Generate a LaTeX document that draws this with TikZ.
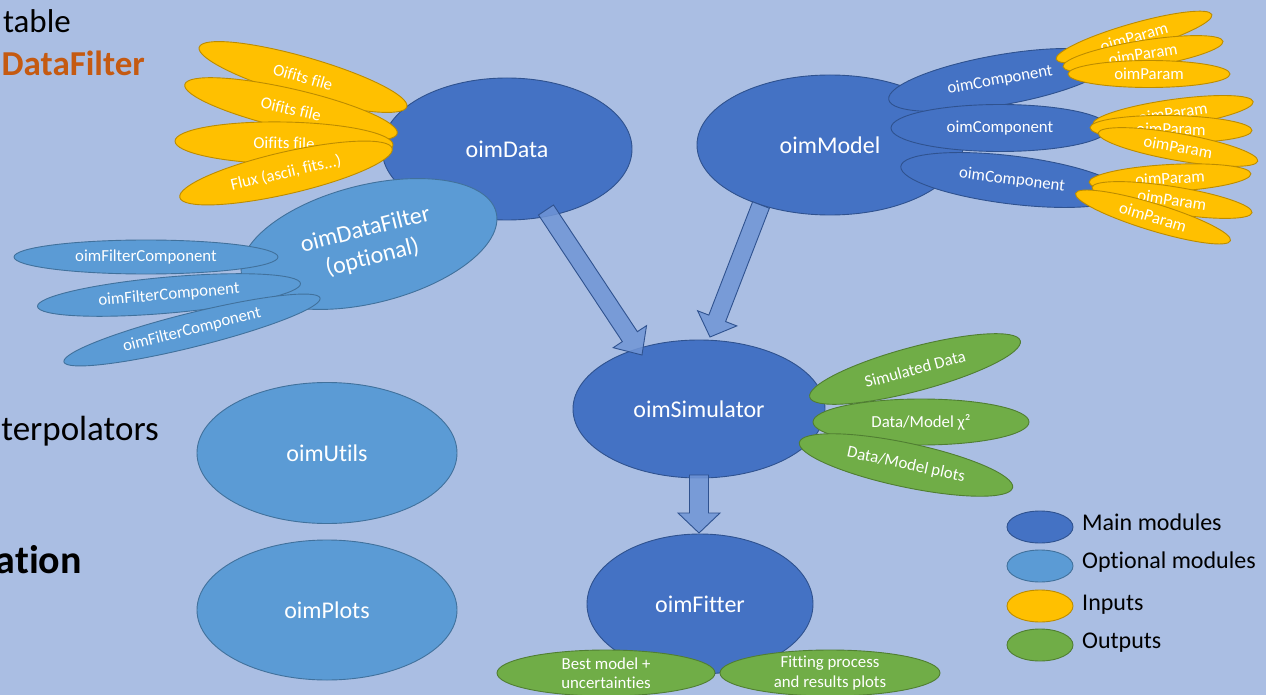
\documentclass[tikz,border=0pt]{standalone}
\usepackage{fontspec}
\setmainfont{Carlito}[Ligatures={NoCommon}]
\usetikzlibrary{shapes.geometric,calc}

\definecolor{bgblue}{HTML}{AABEE3}
\definecolor{mainfill}{HTML}{4472C4}
\definecolor{maindraw}{HTML}{2F528F}
\definecolor{optfill}{HTML}{5B9BD5}
\definecolor{optdraw}{HTML}{41719C}
\definecolor{infill}{HTML}{FFC000}
\definecolor{indraw}{HTML}{BC8C00}
\definecolor{outfill}{HTML}{70AD47}
\definecolor{outdraw}{HTML}{507E32}
\definecolor{arrowfill}{HTML}{7095D6}
\definecolor{filterorange}{HTML}{C55A11}

\tikzset{
  blob/.style={ellipse, inner sep=0pt, outer sep=0pt, line width=0.9pt},
  mainmod/.style={blob, fill=mainfill, draw=maindraw},
  optmod/.style={blob, fill=optfill, draw=optdraw},
  inputs/.style={blob, fill=infill, draw=indraw},
  outputs/.style={blob, fill=outfill, draw=outdraw},
  bigtxt/.style={text=white, inner sep=0pt, align=center,
    font=\fontsize{24}{29}\selectfont},
  smalltxt/.style={text=white, inner sep=0pt, align=center,
    font=\fontsize{16.8}{19.5}\selectfont},
  legtxt/.style={text=black, inner sep=0pt, anchor=west,
    font=\fontsize{24}{29}\selectfont},
  sidetxt/.style={inner sep=0pt, anchor=base east},
  blockarrow/.style={fill=arrowfill, fill opacity=0.85, draw=maindraw,
    line width=0.9pt, line join=miter}
}

% ellipse with its label: style, name, centre, angle, width, height, text style, text
\newcommand\blob[8]{%
  \node[#1, rotate=#4, minimum width=#5, minimum height=#6] (#2) at (#3) {};
  \node[#7, rotate=#4] (#2-t) at (#2.center) {#8};}

% wide outlined arrow from #1 to #2; shaft half width #3, head half width #4, head length #5
\newcommand\fatarrow[5]{%
  \coordinate (fa-h) at ($(#2)!#5!(#1)$);
  \draw[blockarrow]
    ($(#1)!#3!90:(#2)$) -- ($(fa-h)!#3!-90:(#1)$) -- ($(fa-h)!#4!-90:(#1)$)
    -- (#2) -- ($(fa-h)!#4!90:(#1)$) -- ($(fa-h)!#3!90:(#1)$)
    -- ($(#1)!#3!-90:(#2)$) -- cycle;}

\begin{document}
\begin{tikzpicture}[x=1pt, y=-1pt]
  \fill[bgblue] (0,0) rectangle (1266,695);
  \useasboundingbox (0,0) rectangle (1266,695);

  % text running in from the left edge
  \node[sidetxt, font=\fontsize{33}{40}\selectfont] (s1) at (71,33) {table};
  \node[sidetxt, text=filterorange, font=\fontsize{35}{42}\selectfont\bfseries] (s2) at (145,76) {DataFilter};
  \node[sidetxt, font=\fontsize{35}{42}\selectfont] (s3) at (159,440) {terpolators};
  \node[sidetxt, font=\fontsize{40}{48}\selectfont\bfseries] (s4) at (82,573) {ation};

  % data branch
  \blob{mainmod}{data}{507,149}{0}{250}{142}{bigtxt}{oimData}
  \blob{inputs}{d1}{303,77}{-16}{216}{40}{smalltxt}{Oifits file}
  \blob{inputs}{d2}{291,109}{-13}{218}{40}{smalltxt}{Oifits file}
  \blob{inputs}{d3}{284,143}{-1}{218}{42}{smalltxt}{Oifits file}
  \blob{inputs}{d4}{286,173}{13}{218}{42}{smalltxt}{Flux (ascii, fits...)}
  \blob{optmod}{filter}{369,244}{14}{262}{118}{bigtxt}{oimDataFilter\\(optional)}
  \blob{optmod}{fc1}{146,257}{0}{264}{34}{smalltxt}{oimFilterComponent}
  \blob{optmod}{fc2}{169,295}{5}{264}{36}{smalltxt}{oimFilterComponent}
  \blob{optmod}{fc3}{192,330}{14}{264}{34}{smalltxt}{oimFilterComponent}

  % model branch
  \blob{mainmod}{model}{830,145}{0}{266}{140}{bigtxt}{oimModel}
  \blob{mainmod}{c1}{1000,80}{10}{226}{50}{smalltxt}{oimComponent}
  \blob{mainmod}{c2}{1000,128}{0}{218}{47}{smalltxt}{oimComponent}
  \blob{mainmod}{c3}{1012,180}{-7}{224}{48}{smalltxt}{oimComponent}
  \blob{inputs}{p11}{1134,37}{16}{162}{27}{smalltxt}{oimParam}
  \blob{inputs}{p12}{1143,54}{9}{162}{27}{smalltxt}{oimParam}
  \blob{inputs}{p13}{1149,74}{0}{162}{27}{smalltxt}{oimParam}
  \blob{inputs}{p21}{1173,113}{8}{162}{27}{smalltxt}{oimParam}
  \blob{inputs}{p22}{1171,129}{-1}{162}{27}{smalltxt}{oimParam}
  \blob{inputs}{p23}{1178,147}{-10}{162}{27}{smalltxt}{oimParam}
  \blob{inputs}{p31}{1170,178}{3}{162}{27}{smalltxt}{oimParam}
  \blob{inputs}{p32}{1172,200}{-9}{162}{27}{smalltxt}{oimParam}
  \blob{inputs}{p33}{1153,217}{-17}{162}{27}{smalltxt}{oimParam}

  % simulator and its outputs
  \blob{mainmod}{sim}{699,409}{0}{252}{138}{bigtxt}{oimSimulator}
  \blob{outputs}{o1}{915,369}{15}{218}{44}{smalltxt}{Simulated Data}
  \blob{outputs}{o2}{921,422}{0}{216}{46}{smalltxt}{Data/Model χ²}
  \blob{outputs}{o3}{906,465}{-12}{218}{44}{smalltxt}{Data/Model plots}

  % fitter and its outputs
  \blob{mainmod}{fit}{700,604}{0}{226}{140}{bigtxt}{oimFitter}
  \blob{outputs}{r1}{606,673}{0}{218}{46}{smalltxt}{Best model +\\uncertainties}
  \blob{outputs}{r2}{830,673}{0}{220}{46}{smalltxt}{Fitting process\\and results plots}

  % optional helper modules
  \blob{optmod}{utils}{327,453}{0}{260}{141}{bigtxt}{oimUtils}
  \blob{optmod}{plots}{327,610}{0}{260}{140}{bigtxt}{oimPlots}

  % flow arrows
  \coordinate (a1s) at ($(data.center)+(39,61)$);
  \coordinate (a1e) at ($(sim.center)+(-57,-54)$);
  \coordinate (a2s) at ($(model.center)+(-69,60)$);
  \coordinate (a2e) at ($(sim.center)+(11,-72)$);
  \coordinate (a3s) at ($(sim.center)+(0,66)$);
  \coordinate (a3e) at ($(sim.center)+(0,124)$);
  \fatarrow{a1s}{a1e}{9pt}{20pt}{22pt}
  \fatarrow{a2s}{a2e}{9pt}{21pt}{20pt}
  \fatarrow{a3s}{a3e}{9.5pt}{21pt}{20pt}

  % legend
  \node[mainmod, minimum width=66, minimum height=32] (l1) at (1040,527) {};
  \node[optmod,  minimum width=66, minimum height=32] (l2) at (1040,566) {};
  \node[inputs,  minimum width=66, minimum height=32] (l3) at (1040,606) {};
  \node[outputs, minimum width=66, minimum height=32] (l4) at (1040,645) {};
  \node[legtxt] (l1-t) at (1082,522) {Main modules};
  \node[legtxt] (l2-t) at (1082,562) {Optional modules};
  \node[legtxt] (l3-t) at (1082,605) {Inputs};
  \node[legtxt] (l4-t) at (1082,643) {Outputs};
\end{tikzpicture}
\end{document}
